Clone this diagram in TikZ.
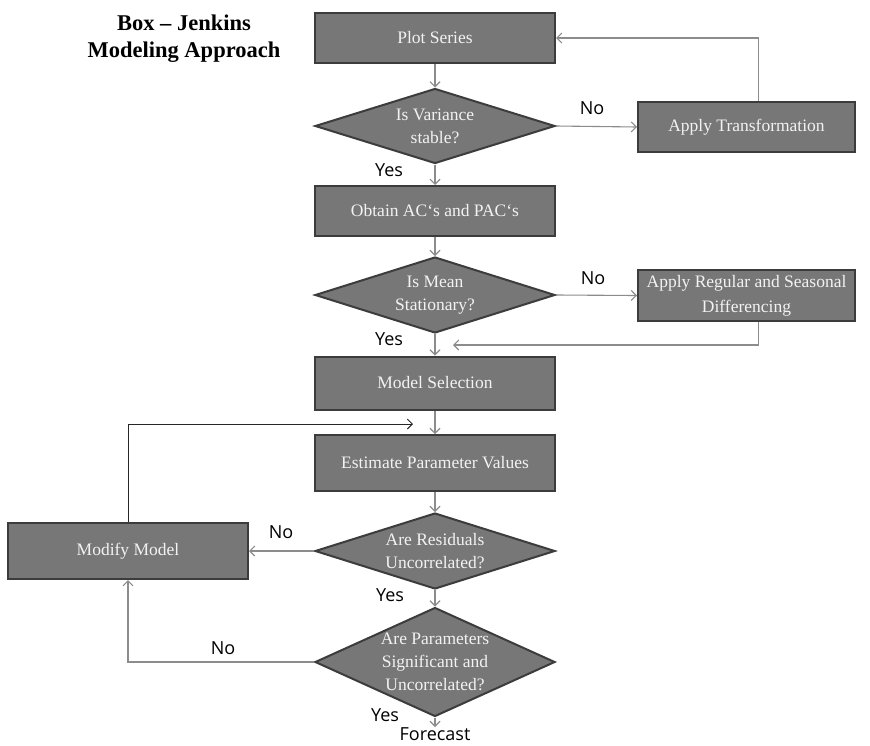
\documentclass[tikz,border=0pt]{standalone}
\usepackage{fontspec}
\setmainfont{Liberation Serif}
\newfontfamily\lblfont{Open Sans}
\usetikzlibrary{shapes.geometric,arrows.meta}
\definecolor{boxfill}{HTML}{777777}
\definecolor{boxedge}{HTML}{3C3C3C}
\definecolor{conn}{HTML}{8C8C8C}
\definecolor{boxtext}{HTML}{F2F2F2}
\tikzset{
  procbox/.style={rectangle, draw=boxedge, line width=2pt, fill=boxfill, text=boxtext,
    inner sep=0pt, align=center, font=\fontsize{17.5}{24}\selectfont},
  decbox/.style={diamond, draw=boxedge, line width=2pt, fill=boxfill, text=boxtext,
    inner sep=0pt, align=center, font=\fontsize{17.5}{23}\selectfont,
    minimum width=240pt},
  lbl/.style={font=\lblfont\fontsize{18}{20}\selectfont, text=black, inner sep=0pt},
  conarrow/.style={draw=conn, line width=1.1pt, -{Straight Barb[length=5pt,width=10pt]}},
  blackarrow/.style={draw=black!85, line width=0.9pt, -{Straight Barb[length=5pt,width=10pt]}},
}
\begin{document}
\begin{tikzpicture}[x=1pt,y=-1pt]
\useasboundingbox (0,0) rectangle (870,745);
\fill[white] (0,0) rectangle (870,745);

% title
\node[font=\bfseries\fontsize{22.5}{27}\selectfont, align=center] (title) at (184,39)
  {Box -- Jenkins\\Modeling Approach};

% process boxes
\node[procbox, minimum width=240pt, minimum height=50pt] (plot) at (435,38) {Plot Series};
\node[procbox, minimum width=217pt, minimum height=50pt] (trans) at (746.5,127) {Apply Transformation};
\node[procbox, minimum width=240pt, minimum height=50pt] (obtain) at (435,211) {Obtain AC‘s and PAC‘s};
\node[procbox, minimum width=217pt, minimum height=51pt, font=\fontsize{17.5}{25}\selectfont] (diff) at (746.5,295.5) {Apply Regular and Seasonal\\Differencing};
\node[procbox, minimum width=240pt, minimum height=53pt] (model) at (435,383) {Model Selection};
\node[procbox, minimum width=240pt, minimum height=56pt] (est) at (435,463) {Estimate Parameter Values};
\node[procbox, minimum width=240pt, minimum height=56pt] (modify) at (128,551) {Modify Model};

% decisions
\node[decbox, minimum height=75pt, aspect=3.2] (d1) at (435,126) {Is Variance\\stable?};
\node[decbox, minimum height=76pt, aspect=3.2] (d2) at (435,295) {Is Mean\\Stationary?};
\node[decbox, minimum height=76pt, aspect=3.2] (d3) at (435,551) {Are Residuals\\Uncorrelated?};
\node[decbox, minimum height=109pt, aspect=2.2] (d4) at (435,662) {Are Parameters\\Significant and\\Uncorrelated?};

\node[lbl, anchor=north] (fc) at (435,727) {Forecast};

% free ends
\coordinate (r1) at (453,345);
\coordinate (r2) at (413,424);

% connectors
\draw[conarrow] (plot.south) -- (d1.north);
\draw[conarrow] (d1.east) -- (trans.west);
\draw[conarrow] ([xshift=12pt]trans.north) |- (plot.east);
\draw[conarrow] (d1.south) -- (obtain.north);
\draw[conarrow] (obtain.south) -- (d2.north);
\draw[conarrow] (d2.east) -- (diff.west);
\draw[conarrow] ([xshift=12pt]diff.south) |- (r1);
\draw[conarrow] (d2.south) -- (model.north);
\draw[conarrow] (model.south) -- (est.north);
\draw[blackarrow] (modify.north) |- (r2);
\draw[conarrow] (est.south) -- (d3.north);
\draw[conarrow] (d3.west) -- (modify.east);
\draw[conarrow] (d3.south) -- (d4.north);
\draw[conarrow] (d4.west) -| (modify.south);
\draw[conarrow] (d4.south) -- (fc.north);

% labels
\node[lbl] (n1) at (592,108) {No};
\node[lbl] (y1) at (389,170) {Yes};
\node[lbl] (n2) at (593,278) {No};
\node[lbl] (y2) at (389,339) {Yes};
\node[lbl] (n3) at (281,532) {No};
\node[lbl] (y3) at (390,595) {Yes};
\node[lbl] (n4) at (223,648) {No};
\node[lbl] (y4) at (385,715) {Yes};
\end{tikzpicture}
\end{document}
